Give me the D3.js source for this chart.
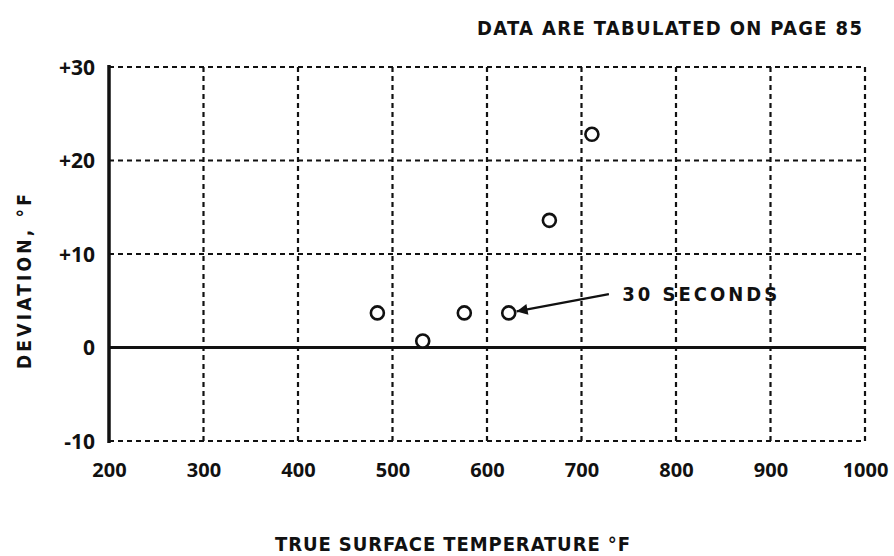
<!DOCTYPE html>
<html>
<head>
<meta charset="utf-8">
<script src="https://cdn.jsdelivr.net/npm/d3@7"></script>
<style>
  html, body { margin: 0; padding: 0; background: #fff; }
  svg { display: block; }
  .lab { font-family: "DejaVu Sans Condensed", "DejaVu Sans", sans-serif; font-weight: bold; fill: #111; }
  .tick { font-family: "Open Sans", "Liberation Sans", sans-serif; font-weight: bold; fill: #111; }
</style>
</head>
<body>
<svg id="chart" width="894" height="556"></svg>
<script>
// ---- data ----
const temperature = [484, 532, 576, 623, 666, 711];
const deviation   = [3.7, 0.7, 3.7, 3.7, 13.6, 22.8];
const xTicks = [200, 300, 400, 500, 600, 700, 800, 900, 1000];
const yTicks = [-10, 0, 10, 20, 30];
const yTickLabels = ["-10", "0", "+10", "+20", "+30"];
const noteText = "30 SECONDS";
const noteFrom = [729, 5.7];
const noteAt = [743, 5.0];
const arrowTo = [623, 3.7];

const svg = d3.select("#chart");
const margin = {left: 109, right: 29, top: 67, bottom: 115};
const W = 894, H = 556;
const x = d3.scaleLinear().domain([200, 1000]).range([margin.left, W - margin.right]);
const y = d3.scaleLinear().domain([-10, 30]).range([H - margin.bottom, margin.top]);

const g = svg.append("g");

// dashed grid (vertical)
g.selectAll("line.vg").data(xTicks.slice(1)).join("line")
  .attr("x1", d => x(d)).attr("x2", d => x(d))
  .attr("y1", y(30)).attr("y2", y(-10))
  .attr("stroke", "#111").attr("stroke-width", 2.2)
  .attr("stroke-dasharray", "5,4");
// dashed grid (horizontal) excluding zero
g.selectAll("line.hg").data(yTicks.filter(d => d !== 0)).join("line")
  .attr("x1", x(200)).attr("x2", x(1000))
  .attr("y1", d => y(d)).attr("y2", d => y(d))
  .attr("stroke", "#111").attr("stroke-width", 2.2)
  .attr("stroke-dasharray", "5,4");

// solid left axis & zero line
g.append("line").attr("x1", x(200)).attr("x2", x(200))
  .attr("y1", y(30) - 2).attr("y2", y(-10) + 2)
  .attr("stroke", "#111").attr("stroke-width", 3.5);
g.append("line").attr("x1", x(200)).attr("x2", x(1000))
  .attr("y1", y(0)).attr("y2", y(0))
  .attr("stroke", "#111").attr("stroke-width", 3);

// axes labels via d3 axes (text only)
const xAxis = d3.axisBottom(x).tickValues(xTicks).tickSize(0).tickPadding(0).tickFormat(d3.format("d"));
const xa = svg.append("g").attr("transform", `translate(0, ${y(-10) + 36})`).call(xAxis);
xa.select(".domain").remove();
xa.selectAll("text").attr("class", "tick").attr("font-size", 20).attr("dy", "0");

const yAxis = d3.axisLeft(y).tickValues(yTicks).tickSize(0).tickPadding(0)
  .tickFormat(d => yTickLabels[yTicks.indexOf(d)]);
const ya = svg.append("g").attr("transform", `translate(${x(200) - 14}, 0)`).call(yAxis);
ya.select(".domain").remove();
ya.selectAll("text").attr("class", "tick").attr("font-size", 21).attr("dy", "0.35em");

// points
g.selectAll("circle.pt").data(temperature.map((t, i) => [t, deviation[i]])).join("circle")
  .attr("cx", d => x(d[0])).attr("cy", d => y(d[1])).attr("r", 6.5)
  .attr("fill", "#fff").attr("stroke", "#111").attr("stroke-width", 2.6);

// annotation arrow
svg.append("defs").append("marker")
  .attr("id", "ah").attr("viewBox", "0 0 10 10").attr("refX", 10).attr("refY", 5)
  .attr("markerWidth", 6).attr("markerHeight", 5).attr("orient", "auto")
  .attr("markerUnits", "strokeWidth")
  .append("path").attr("d", "M0,0 L10,5 L0,10 z").attr("fill", "#111");
const x0 = x(noteFrom[0]), y0 = y(noteFrom[1]);
const x1 = x(arrowTo[0]), y1 = y(arrowTo[1]);
const ang = Math.atan2(y0 - y1, x0 - x1);
g.append("line").attr("x1", x0).attr("y1", y0)
  .attr("x2", x1 + 8 * Math.cos(ang)).attr("y2", y1 + 8 * Math.sin(ang))
  .attr("stroke", "#111").attr("stroke-width", 2.2).attr("marker-end", "url(#ah)");
svg.append("text").attr("class", "lab").attr("x", x(noteAt[0])).attr("y", y(noteAt[1]))
  .attr("font-size", 20).attr("textLength", 155).attr("lengthAdjust", "spacing").text(noteText);

// titles
svg.append("text").attr("class", "lab").attr("x", 477).attr("y", 35)
  .attr("font-size", 20).attr("textLength", 385).attr("lengthAdjust", "spacing")
  .text("DATA ARE TABULATED ON PAGE 85");
svg.append("text").attr("class", "lab").attr("x", 275).attr("y", 551)
  .attr("font-size", 20).attr("textLength", 355).attr("lengthAdjust", "spacing")
  .text("TRUE SURFACE TEMPERATURE °F");
svg.append("text").attr("class", "lab")
  .attr("transform", "translate(31, 369) rotate(-90)")
  .attr("font-size", 19).attr("textLength", 175).attr("lengthAdjust", "spacing")
  .text("DEVIATION, °F");
</script>
</body>
</html>
